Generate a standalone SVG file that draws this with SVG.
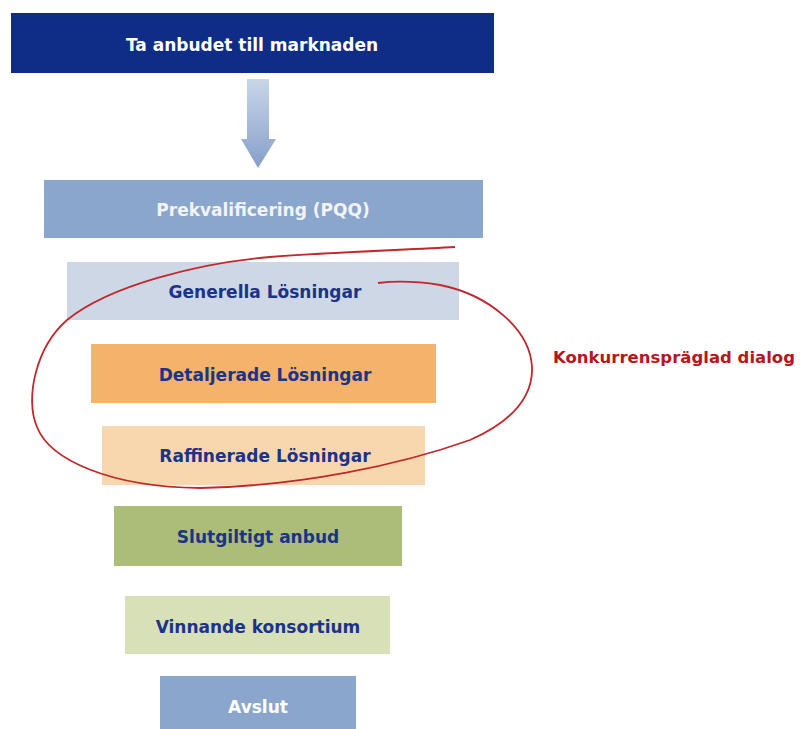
<svg xmlns="http://www.w3.org/2000/svg" width="800" height="729" viewBox="0 0 800 729">
<defs>
<linearGradient id="arrowGrad" x1="0" y1="0" x2="0" y2="1">
<stop offset="0" stop-color="#C9D6E8"/>
<stop offset="1" stop-color="#869FCA"/>
</linearGradient>
<style>
.lbl{font-family:"DejaVu Sans","Verdana",sans-serif;font-weight:bold;text-anchor:middle;font-size:17px}
.navy{fill:#1B3388}
.white{fill:#FFFFFF}
</style>
</defs>
<rect x="0" y="0" width="800" height="729" fill="#FFFFFF"/>
<g id="n-market">
<rect x="11" y="13" width="483" height="60" fill="#0F2C87"/>
<text class="lbl white" x="252" y="51" font-size="18">Ta anbudet till marknaden</text>
</g>
<g id="connectors">
<path d="M247,79 H269 V139 H276 L258,168 L241,139 H247 Z" fill="url(#arrowGrad)"/>
</g>
<g id="n-pqq">
<rect x="44" y="180" width="439" height="58" fill="#8AA6CC"/>
<text class="lbl" x="263" y="216" fill="#F2F4F8" font-size="17.8">Prekvalificering (PQQ)</text>
</g>
<g id="n-generella">
<rect x="67" y="262" width="392" height="58" fill="#CDD7E5"/>
<text class="lbl navy" x="265" y="298">Generella Lösningar</text>
</g>
<g id="n-detaljerade">
<rect x="91" y="344" width="345" height="59" fill="#F4B26A"/>
<text class="lbl navy" x="265" y="381">Detaljerade Lösningar</text>
</g>
<g id="n-raffinerade">
<rect x="102" y="426" width="323" height="59" fill="#F9D7AE"/>
<text class="lbl navy" x="265" y="462">Raffinerade Lösningar</text>
</g>
<g id="n-slutgiltigt">
<rect x="114" y="506" width="288" height="60" fill="#ABBD77"/>
<text class="lbl navy" x="258" y="543">Slutgiltigt anbud</text>
</g>
<g id="n-vinnande">
<rect x="125" y="596" width="265" height="58" fill="#D8E0B7"/>
<text class="lbl navy" x="258" y="633">Vinnande konsortium</text>
</g>
<g id="n-avslut">
<rect x="160" y="676" width="196" height="53" fill="#8AA6CC"/>
<text class="lbl white" x="258" y="713">Avslut</text>
</g>
<g id="dialog">
<path d="M455,247 C400,250 320,253 270,257 C200,263 110,285 67,320 C35,348 25,400 37,427 C50,460 110,487 200,488 C300,486 400,465 470,440 C515,420 533,395 532,367 C530,330 490,295 440,285 C415,281 395,281 378,283" fill="none" stroke="#C0282C" stroke-width="1.8"/>
<text x="553" y="363" font-family="&quot;DejaVu Sans&quot;,Verdana,sans-serif" font-weight="bold" font-size="16.5" fill="#B8161C">Konkurrenspräglad dialog</text>
</g>
</svg>
